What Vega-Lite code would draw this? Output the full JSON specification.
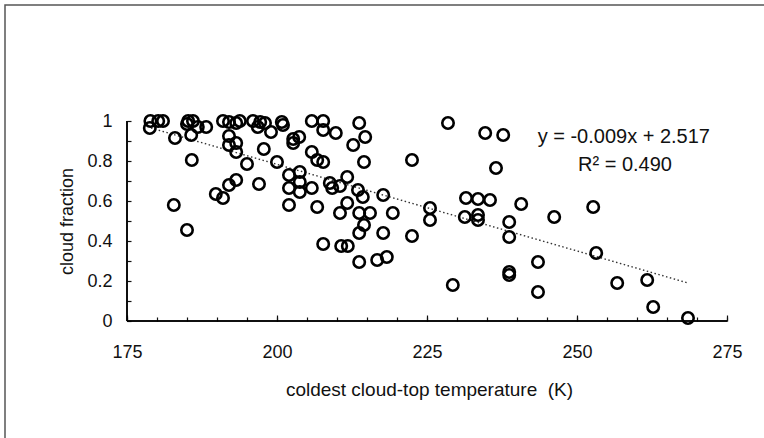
{
  "$schema": "https://vega.github.io/schema/vega-lite/v6.json",
  "width": 761,
  "height": 435,
  "autosize": {"type": "none"},
  "padding": {"left": 5, "top": 5, "right": -2, "bottom": -2},
  "background": "white",
  "config": {
    "view": {"stroke": "#555555", "strokeWidth": 1.5},
    "font": "Liberation Sans",
    "axis": {"labelOverlap": false, "labelBound": false, "labelFlush": false, "grid": false}
  },
  "resolve": {"axis": {"x": "independent"}},
  "datasets": {
    "obs": [
      {"t": 178.9, "cf": 1.0}, {"t": 180.2, "cf": 1.0}, {"t": 181.0, "cf": 1.0}, {"t": 178.8, "cf": 0.965},
      {"t": 185.2, "cf": 1.0}, {"t": 186.0, "cf": 1.0}, {"t": 185.0, "cf": 0.985}, {"t": 186.8, "cf": 0.97},
      {"t": 188.2, "cf": 0.97}, {"t": 183.0, "cf": 0.915}, {"t": 185.7, "cf": 0.93}, {"t": 185.8, "cf": 0.805},
      {"t": 191.0, "cf": 1.0}, {"t": 192.0, "cf": 0.995}, {"t": 193.2, "cf": 0.99}, {"t": 193.8, "cf": 1.0},
      {"t": 192.0, "cf": 0.925}, {"t": 193.2, "cf": 0.89}, {"t": 192.0, "cf": 0.88}, {"t": 193.2, "cf": 0.845},
      {"t": 195.0, "cf": 0.785}, {"t": 196.0, "cf": 1.0}, {"t": 197.2, "cf": 0.995}, {"t": 198.0, "cf": 0.99},
      {"t": 196.8, "cf": 0.97}, {"t": 199.0, "cf": 0.945}, {"t": 200.8, "cf": 0.995}, {"t": 201.0, "cf": 0.98},
      {"t": 197.8, "cf": 0.86}, {"t": 200.0, "cf": 0.795}, {"t": 202.7, "cf": 0.91}, {"t": 203.7, "cf": 0.92},
      {"t": 202.7, "cf": 0.89}, {"t": 205.8, "cf": 1.0}, {"t": 207.7, "cf": 1.0}, {"t": 207.7, "cf": 0.955},
      {"t": 205.8, "cf": 0.845}, {"t": 206.7, "cf": 0.805}, {"t": 207.7, "cf": 0.795}, {"t": 193.2, "cf": 0.705},
      {"t": 192.0, "cf": 0.68}, {"t": 189.8, "cf": 0.635}, {"t": 191.0, "cf": 0.615}, {"t": 197.0, "cf": 0.685},
      {"t": 202.0, "cf": 0.73}, {"t": 202.0, "cf": 0.665}, {"t": 203.8, "cf": 0.745}, {"t": 203.8, "cf": 0.695},
      {"t": 203.8, "cf": 0.645}, {"t": 205.8, "cf": 0.665}, {"t": 182.8, "cf": 0.58}, {"t": 202.0, "cf": 0.58},
      {"t": 206.7, "cf": 0.57}, {"t": 185.0, "cf": 0.455}, {"t": 207.7, "cf": 0.385}, {"t": 209.8, "cf": 0.94},
      {"t": 213.7, "cf": 0.99}, {"t": 214.7, "cf": 0.92}, {"t": 212.7, "cf": 0.88}, {"t": 228.5, "cf": 0.99},
      {"t": 234.7, "cf": 0.94}, {"t": 237.7, "cf": 0.93}, {"t": 214.5, "cf": 0.795}, {"t": 222.5, "cf": 0.805},
      {"t": 236.5, "cf": 0.765}, {"t": 211.7, "cf": 0.72}, {"t": 208.8, "cf": 0.69}, {"t": 209.2, "cf": 0.665},
      {"t": 210.5, "cf": 0.675}, {"t": 213.5, "cf": 0.655}, {"t": 214.3, "cf": 0.62}, {"t": 217.7, "cf": 0.63},
      {"t": 211.7, "cf": 0.59}, {"t": 210.5, "cf": 0.54}, {"t": 213.7, "cf": 0.54}, {"t": 215.5, "cf": 0.54},
      {"t": 219.3, "cf": 0.54}, {"t": 225.5, "cf": 0.565}, {"t": 225.5, "cf": 0.505}, {"t": 231.5, "cf": 0.615},
      {"t": 233.5, "cf": 0.61}, {"t": 235.5, "cf": 0.605}, {"t": 231.3, "cf": 0.52}, {"t": 233.5, "cf": 0.53},
      {"t": 233.5, "cf": 0.505}, {"t": 214.5, "cf": 0.48}, {"t": 217.7, "cf": 0.44}, {"t": 213.7, "cf": 0.44},
      {"t": 222.5, "cf": 0.425}, {"t": 210.7, "cf": 0.375}, {"t": 211.8, "cf": 0.375}, {"t": 213.7, "cf": 0.295},
      {"t": 216.7, "cf": 0.305}, {"t": 218.3, "cf": 0.32}, {"t": 229.3, "cf": 0.18}, {"t": 238.7, "cf": 0.495},
      {"t": 238.7, "cf": 0.42}, {"t": 240.7, "cf": 0.585}, {"t": 246.2, "cf": 0.52}, {"t": 252.7, "cf": 0.57},
      {"t": 243.5, "cf": 0.295}, {"t": 238.7, "cf": 0.245}, {"t": 238.7, "cf": 0.23}, {"t": 253.2, "cf": 0.34},
      {"t": 243.5, "cf": 0.145}, {"t": 256.7, "cf": 0.19}, {"t": 261.7, "cf": 0.205}, {"t": 262.7, "cf": 0.07},
      {"t": 268.5, "cf": 0.015}
    ],
    "lines": [
      {"t": 179.0, "cf": 0.965, "seg": "trend"},
      {"t": 268.5, "cf": 0.19, "seg": "trend"},
      {"t": 175, "cf": 0, "seg": "xaxis"},
      {"t": 275, "cf": 0, "seg": "xaxis"},
      {"t": 175, "cf": 0, "seg": "yaxis"},
      {"t": 175, "cf": 1, "seg": "yaxis"}
    ],
    "axisline": [
      {"t": 175, "t2": 275, "cf": 0, "cf2": 0},
      {"t": 175, "t2": 175, "cf": 0, "cf2": 1}
    ],
    "one": [{}]
  },
  "layer": [
    {
      "data": {"name": "axisline"},
      "mark": {"type": "rule", "color": "black", "strokeWidth": 1.6},
      "encoding": {
        "x": {"field": "t", "type": "quantitative", "scale": {"domain": [154.6667, 281.5], "nice": false, "zero": false}, "axis": null},
        "x2": {"field": "t2"},
        "y": {"field": "cf", "type": "quantitative", "scale": {"domain": [-0.595, 1.58], "nice": false, "zero": false}},
        "y2": {"field": "cf2"}
      }
    },
    {
      "data": {"name": "lines"},
      "mark": {"type": "line", "strokeWidth": 1.4},
      "encoding": {
        "x": {
          "field": "t", "type": "quantitative",
          "axis": {
            "orient": "bottom", "offset": -119, "domain": false, "grid": false,
            "values": [175, 180, 185, 190, 195, 200, 205, 210, 215, 220, 225, 230, 235, 240, 245, 250, 255, 260, 265, 270, 275],
            "labels": false,
            "tickSize": -4, "tickColor": "#111111", "tickWidth": 1.2,
            "title": null
          }
        },
        "y": {
          "field": "cf", "type": "quantitative",
          "axis": {
            "orient": "left", "offset": -122, "domain": false, "grid": false,
            "values": [0, 0.05, 0.1, 0.15, 0.2, 0.25, 0.3, 0.35, 0.4, 0.45, 0.5, 0.55, 0.6, 0.65, 0.7, 0.75, 0.8, 0.85, 0.9, 0.95, 1],
            "labelExpr": "abs(datum.value * 5 - round(datum.value * 5)) < 0.001 ? format(datum.value, '~g') : ''",
            "tickSize": -4, "tickColor": "#111111", "tickWidth": 1.2,
            "labelPadding": 19, "labelFontSize": 18, "labelColor": "#111111",
            "labelOverlap": false, "labelFlush": false, "labelBound": false,
            "title": "cloud fraction",
            "titleFontSize": 18, "titleFontWeight": "normal", "titleColor": "#111111",
            "titleX": -60, "titleY": 216, "titleAngle": -90, "titleBaseline": "middle", "titleAlign": "center", "titleAnchor": null
          }
        },
        "detail": {"field": "seg", "type": "nominal"},
        "color": {"field": "seg", "type": "nominal", "scale": {"domain": ["trend", "xaxis", "yaxis"], "range": ["#333333", "#000000", "#000000"]}, "legend": null},
        "strokeDash": {"field": "seg", "type": "nominal", "scale": {"domain": ["trend", "xaxis", "yaxis"], "range": [[1.5, 2.5], [1, 0], [1, 0]]}, "legend": null}
      }
    },
    {
      "data": {"name": "obs"},
      "mark": {"type": "point", "shape": "circle", "filled": false, "color": "#000000", "strokeWidth": 2.6, "size": 130, "opacity": 1},
      "encoding": {
        "x": {
          "field": "t", "type": "quantitative",
          "axis": {
            "orient": "bottom", "offset": -119, "domain": false, "grid": false,
            "values": [175, 200, 225, 250, 275],
            "format": "d",
            "tickSize": -6, "tickColor": "#111111", "tickWidth": 1.2,
            "labelPadding": 28, "labelFontSize": 18, "labelColor": "#111111",
            "labelOverlap": false, "labelFlush": false, "labelBound": false,
            "title": "coldest cloud-top temperature \u00a0(K)",
            "titleFontSize": 19, "titleFontWeight": "normal", "titleColor": "#111111",
            "titleX": 424, "titleY": 68, "titleBaseline": "middle", "titleAlign": "center", "titleAnchor": null
          }
        },
        "y": {"field": "cf", "type": "quantitative"}
      }
    },
    {
      "data": {"name": "one"},
      "mark": {"type": "text", "fontSize": 20, "color": "#111111", "align": "center", "baseline": "middle"},
      "encoding": {
        "x": {"datum": 257.8, "type": "quantitative", "axis": null},
        "y": {"datum": 0.92, "type": "quantitative"},
        "text": {"value": "y = -0.009x + 2.517"}
      }
    },
    {
      "data": {"name": "one"},
      "mark": {"type": "text", "fontSize": 20, "color": "#111111", "align": "center", "baseline": "middle"},
      "encoding": {
        "x": {"datum": 258, "type": "quantitative", "axis": null},
        "y": {"datum": 0.78, "type": "quantitative"},
        "text": {"value": "R\u00b2 = 0.490"}
      }
    }
  ]
}
